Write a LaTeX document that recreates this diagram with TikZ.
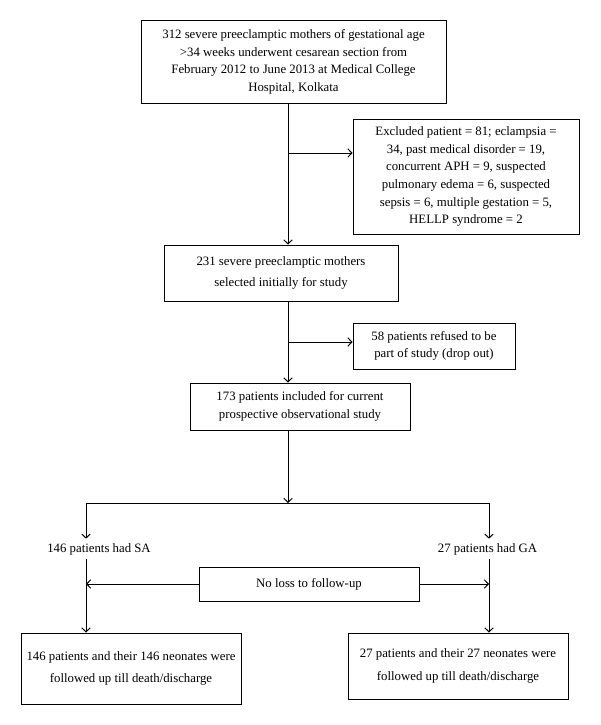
\documentclass[tikz,border=0pt]{standalone}
\usepackage{fontspec}
\setmainfont{Liberation Serif}
\usetikzlibrary{arrows.meta}

\begin{document}
\begin{tikzpicture}[x=1pt, y=-1pt, line width=1pt,
  >={Straight Barb[length=4pt,width=8.5pt]},
  caixa/.style={draw, align=center, inner sep=0pt, font=\fontsize{12.8}{17.7}\selectfont},
  rotulo/.style={inner sep=4pt, font=\fontsize{12.8}{15}\selectfont}]

\useasboundingbox (0,0) rectangle (600,725);

% Caixa inicial
\node[caixa, minimum width=305, minimum height=82] (inicio) at (293.5,62)
  {312 severe preeclamptic mothers of gestational age\\
   >34 weeks underwent cesarean section from\\
   February 2012 to June 2013 at Medical College\\
   Hospital, Kolkata};

% Excluidas
\node[caixa, minimum width=226, minimum height=115] (excluidas) at (466,176.5)
  {Excluded patient = 81; eclampsia =\\
   34, past medical disorder = 19,\\
   concurrent APH = 9, suspected\\
   pulmonary edema = 6, suspected\\
   sepsis = 6, multiple gestation = 5,\\
   HELLP syndrome = 2};

% Selecionadas
\node[caixa, minimum width=234, minimum height=56] (selecionadas) at (281,273)
  {231 severe preeclamptic mothers\\[4pt]
   selected initially for study};

% Recusas
\node[caixa, minimum width=162, minimum height=46] (recusas) at (434,346)
  {58 patients refused to be\\
   part of study (drop out)};

% Incluidas
\node[caixa, minimum width=220, minimum height=47] (incluidas) at (300,406.5)
  {173 patients included for current\\
   prospective observational study};

% Grupos
\node[rotulo] (sa) at (99,549) {146 patients had SA};
\node[rotulo] (ga) at (487.5,549) {27 patients had GA};

% Sem perdas
\node[caixa, minimum width=220, minimum height=34] (semperda) at (309,584)
  {No loss to follow-up};

% Caixas finais
\node[caixa, minimum width=220, minimum height=71] (finalsa) at (131,668.5)
  {146 patients and their 146 neonates were\\[4pt]
   followed up till death/discharge};
\node[caixa, minimum width=220, minimum height=66] (finalga) at (458,666)
  {27 patients and their 27 neonates were\\[5pt]
   followed up till death/discharge};

% Pontos de junção
\coordinate (tronco) at (288,0);
\coordinate (j1) at (288,153);
\coordinate (j2) at (288,342);
\coordinate (meio) at (288,503);
\coordinate (esq) at (86,503);
\coordinate (dir) at (489,503);

% Setas do tronco
\draw[->] (inicio.south -| tronco) -- (selecionadas.north -| tronco);
\draw[->] (j1) -- (j1 -| excluidas.west);
\draw[->] (selecionadas.south -| tronco) -- (incluidas.north -| tronco);
\draw[->] (j2) -- (j2 -| recusas.west);
\draw[->] (incluidas.south -| tronco) -- (meio);

% Divisão
\draw (esq) -- (dir);
\draw[->] (esq) -- (esq |- sa.north);
\draw[->] (dir) -- (dir |- ga.north);
\draw[->] (esq |- sa.south) -- (esq |- finalsa.north);
\draw[->] (dir |- ga.south) -- (dir |- finalga.north);

% Setas do sem perdas
\draw[->] (semperda.west) -- (semperda.west -| esq);
\draw[->] (semperda.east) -- (semperda.east -| dir);

\end{tikzpicture}
\end{document}
